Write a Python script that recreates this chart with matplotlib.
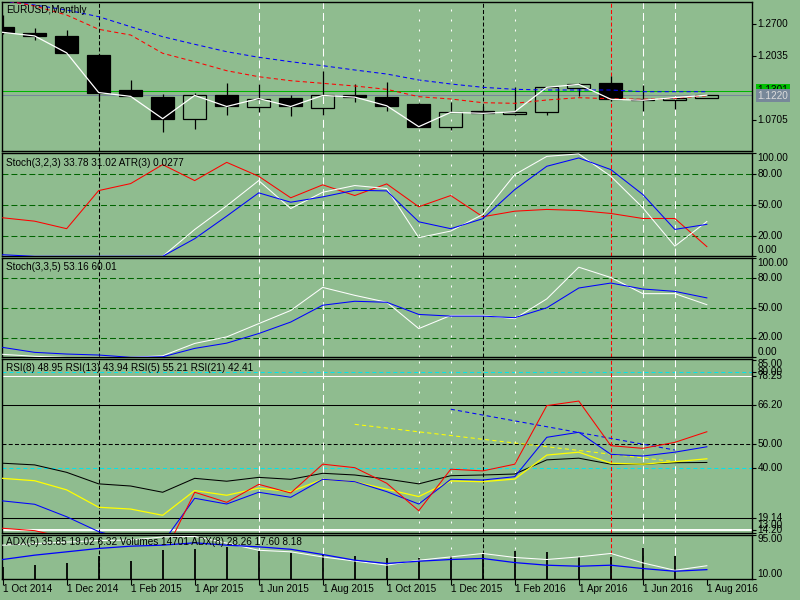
import matplotlib
matplotlib.use('Agg')
import matplotlib.pyplot as plt
import matplotlib.transforms as mtrans
import numpy as np

plt.rcParams['font.family'] = ['Liberation Sans', 'DejaVu Sans']
FS = 7.2
LW = 0.75
BG = '#8fbc8f'

# ---------------- data ----------------
months = ['Oct 2014', 'Nov 2014', 'Dec 2014', 'Jan 2015', 'Feb 2015', 'Mar 2015',
          'Apr 2015', 'May 2015', 'Jun 2015', 'Jul 2015', 'Aug 2015', 'Sep 2015',
          'Oct 2015', 'Nov 2015', 'Dec 2015', 'Jan 2016', 'Feb 2016', 'Mar 2016',
          'Apr 2016', 'May 2016', 'Jun 2016', 'Jul 2016', 'Aug 2016']
opens = [1.2630, 1.2522, 1.2452, 1.2060, 1.1325, 1.1185, 1.0731, 1.1224, 1.0981, 1.1161,
         1.0960, 1.1224, 1.1182, 1.1037, 1.0565, 1.0884, 1.0835, 1.0877, 1.1376, 1.1473,
         1.1150, 1.1115, 1.1170]
highs = [1.2887, 1.2617, 1.2575, 1.2070, 1.1536, 1.1245, 1.1265, 1.1466, 1.1453, 1.1228,
         1.1714, 1.1460, 1.1494, 1.1058, 1.1085, 1.0985, 1.1384, 1.1390, 1.1473, 1.1619,
         1.1432, 1.1185, 1.1234]
lows = [1.2500, 1.2358, 1.2098, 1.1098, 1.1185, 1.0461, 1.0523, 1.0818, 1.0877, 1.0787,
        1.0808, 1.1086, 1.0897, 1.0557, 1.0496, 1.0711, 1.0815, 1.0808, 1.1197, 1.1098,
        1.0898, 1.0939, 1.1160]
closes = [1.2527, 1.2452, 1.2100, 1.1275, 1.1195, 1.0731, 1.1215, 1.0985, 1.1150, 1.0985,
          1.1215, 1.1180, 1.1000, 1.0565, 1.0864, 1.0843, 1.0875, 1.1384, 1.1445, 1.1135,
          1.1115, 1.1170, 1.1220]
ma_slow = [1.3178, 1.3095, 1.2991, 1.2852, 1.2644, 1.2436, 1.2278, 1.2124, 1.2008, 1.1916,
           1.1833, 1.1744, 1.1660, 1.1536, 1.1453, 1.1384, 1.1342, 1.1328, 1.1328, 1.1328,
           1.1293, 1.1293, 1.1293]
ma_mid = [1.3199, 1.3074, 1.2887, 1.2590, 1.2471, 1.2091, 1.1916, 1.1729, 1.1604, 1.1521,
          1.1467, 1.1411, 1.1342, 1.1189, 1.1141, 1.1064, 1.1051, 1.1120, 1.1168, 1.1147,
          1.1135, 1.1155, 1.1209]
green_level = 1.1301
bid_level = 1.1220
price_ticks = [1.2700, 1.2035, 1.0705]

stoch1_main = [0, 0, 0, 0, 0, 0, 26, 49, 73.5, 46.4, 62.2, 68.7, 65.8, 18.1, 24.5, 40.6,
               79.3, 97, 99.4, 77.7, 47.1, 9.9, 33.78]
stoch1_signal = [1.5, 0, 0, 0, 0, 0, 17.1, 39, 61.6, 52.5, 57.7, 64.1, 63.5, 33.5, 26.8, 36.5,
                 64.8, 87.4, 95.5, 84.2, 60, 26.1, 31.02]
atr_line = [37.4, 34.1, 26.8, 63.8, 70.6, 89.0, 73.5, 91.2, 77.7, 56.8, 69.4, 59.0, 70.3,
            48.1, 59.0, 38.4, 43.8, 45.5, 44.5, 41.6, 36.7, 36.7, 9.4]

stoch2_main = [3, 1, 0, 0, 0, 1.5, 14, 20.6, 34, 47.3, 70.6, 62.6, 55.6, 29, 42.3, 42.3,
               39, 59, 91, 80.6, 64.3, 64.3, 53.16]
stoch2_signal = [10, 5, 3.3, 2.3, 0, 0.5, 9, 14.3, 24, 35.6, 52.6, 56.6, 55.6, 43.3, 41.6,
                 41.6, 40, 50, 70, 75, 69, 66.6, 60.01]
stoch_levels = [80, 50, 20]

rsi5 = [15, 14, 11, 8, 6, 3, 30, 25.8, 33.3, 29.7, 41.7, 40.25, 33.75, 22.3, 39.6, 38.9,
        41.7, 66.1, 68, 49.4, 48.3, 50.8, 55.21]
rsi8 = [26.4, 25, 19.8, 13.6, 10, 9, 27.5, 25.1, 30, 27.9, 35.4, 34.4, 30.25, 25.1, 35.4,
        35.1, 36.5, 52.9, 55, 45.8, 45.1, 46.7, 48.95]
rsi13 = [35.8, 34.8, 31, 23.75, 23, 20.4, 30.7, 28.75, 31.7, 30.25, 35.4, 34.4, 31.25, 28.2,
         34.7, 34.4, 35.5, 45.5, 46.7, 42.1, 41.7, 42.75, 43.94]
rsi21 = [42.1, 41.4, 38.3, 33.5, 32.6, 30, 35.8, 34.6, 36.2, 35.4, 37.9, 37.2, 35.5, 33.5,
         36.9, 37.2, 37.6, 43.5, 44.2, 41.7, 41.7, 42.3, 42.41]
trend_blue_k = [14, 21]
trend_blue_v = [64.6, 47.6]
trend_yellow_k = [11, 21]
trend_yellow_v = [58.3, 42.75]

adx5 = [76, 79, 82, 85, 86, 92, 93, 80, 66, 63, 53, 45, 37, 46.6, 53.1, 59.8, 52, 48, 53.1,
        59.8, 41.4, 27, 35.85]
adx8 = [48, 56.5, 63, 69.6, 74, 76, 80.6, 76, 72.7, 68, 57.8, 46.7, 40.2, 44.7, 48, 50, 42,
        36.9, 34.9, 36.9, 30.4, 25.1, 28.26]
volumes_k = [260, 309, 336, 498, 393, 624, 638, 687, 603, 554, 512, 498, 449, 441, 498, 554,
             603, 567, 462, 462, 651, 498, 14.7]

vline_months = [3, 8, 10, 13, 14, 15, 16, 19, 20, 21]
vline_colors = ['black', 'white', 'white', 'white', 'white', 'black', 'white', 'red', 'white', 'white']
vline_kinds = ['dash', 'dash', 'dash', 'dot', 'dot', 'dash', 'dot', 'dash', 'dash', 'dash']

# ---------------- figure ----------------
W, H = 800, 600
fig = plt.figure(figsize=(8, 6), dpi=100, facecolor=BG)
x = np.arange(len(months))
XL, XR = 2.3, 752.3

DASH_MA = (0, (4, 3))
DASH_GRID = (0, (5.7, 2.9))
DASH_LVL = (0, (3.8, 2.2))
DASH_CYAN = (0, (3.8, 2.9))


def mk_ax(top, bottom):
    ax = fig.add_axes([XL / W, 1 - bottom / H, (XR - XL) / W, (bottom - top) / H])
    ax.set_facecolor(BG)
    for s in ax.spines.values():
        s.set_color('black')
        s.set_linewidth(1.0)
    ax.set_xlim(-0.01, 23.42)
    ax.tick_params(axis='x', bottom=False, labelbottom=False)
    ax.yaxis.tick_right()
    ax.tick_params(axis='y', right=True, left=False, labelright=False, labelleft=False,
                   length=3, width=0.8, color='black', direction='out')
    return ax


def rlabel(ax, value, text, dy=0, **kw):
    tr = mtrans.blended_transform_factory(ax.transAxes, ax.transData)
    tr = mtrans.offset_copy(tr, fig=fig, x=5.4, y=-dy, units='dots')
    return ax.text(1.0, value, text, transform=tr, ha='left', va='center',
                   fontsize=FS, clip_on=False, **kw)


def vlines(ax):
    for k, c, kind in zip(vline_months, vline_colors, vline_kinds):
        if kind == 'dot':
            ls = (0, (1.9, 7.7))
        elif c == 'white':
            ls = (0, (7.6, 3.8))
        else:
            ls = (0, (3.8, 2.2))
        ax.axvline(k, color=c, ls=ls, lw=LW, zorder=2)


def ptext(px, py, s):
    fig.text(px / W, 1 - py / H, s, fontsize=FS, va='center', ha='left', color='black',
             zorder=20)


# ---- main price panel ----
ax = mk_ax(1.7, 151.3)
ax.set_ylim(1.00534, 1.31636)
o = np.array(opens); c = np.array(closes); h = np.array(highs); l = np.array(lows)
lo = np.minimum(o, c); hi = np.maximum(o, c)
bull = c >= o
ax.vlines(x, l, lo, color='black', lw=0.9, zorder=3)
ax.vlines(x, hi, h, color='black', lw=0.9, zorder=3)
ax.bar(x[bull], (hi - lo)[bull], bottom=lo[bull], width=0.72, facecolor='none',
       edgecolor='black', lw=0.9, zorder=3)
ax.bar(x[~bull], (hi - lo)[~bull], bottom=lo[~bull], width=0.72, facecolor='black',
       edgecolor='black', lw=0.9, zorder=3)
ax.axhline(green_level, color='#00b400', lw=LW, zorder=2)
ax.axhline(bid_level, color='#778899', lw=LW, zorder=2)
vlines(ax)
ax.plot(x, ma_slow, color='#0000ff', ls=DASH_MA, lw=LW, zorder=4)
ax.plot(x, ma_mid, color='#ff0000', ls=DASH_MA, lw=LW, zorder=4)
ax.plot(x, closes, color='white', lw=0.9, zorder=5)
ax.set_yticks(price_ticks)
for v in price_ticks:
    rlabel(ax, v, f'{v:.4f}')
rlabel(ax, green_level, f'{green_level:.4f}', dy=-1, color='black', zorder=6,
       bbox=dict(boxstyle='square,pad=0.15', fc='#00c000', ec='none'))
rlabel(ax, bid_level, f'{bid_level:.4f}', dy=0.5, color='#dcdcdc', zorder=7,
       bbox=dict(boxstyle='square,pad=0.15', fc='#778899', ec='none'))
ptext(6.5, 10, 'EURUSD,Monthly')

# ---- stoch 1 ----
ax1 = mk_ax(153.3, 256.3)
ax1.set_ylim(0, 100)
for lev in stoch_levels:
    ax1.axhline(lev, color='#006400', ls=DASH_GRID, lw=LW, zorder=1)
vlines(ax1)
ax1.plot(x, atr_line, color='#ff0000', lw=LW, zorder=3)
ax1.plot(x, stoch1_main, color='white', lw=LW, zorder=3)
ax1.plot(x, stoch1_signal, color='#0000ff', lw=LW, zorder=4)
ax1.set_yticks([0, 20, 50, 80, 100])
rlabel(ax1, 100, '100.00', dy=5)
for v in stoch_levels:
    rlabel(ax1, v, f'{v:.2f}')
rlabel(ax1, 0, '0.00', dy=-6)
ptext(6, 162.7, 'Stoch(3,2,3) 33.78 31.02 ATR(3) 0.0277')

# ---- stoch 2 ----
ax2 = mk_ax(258.3, 357.3)
ax2.set_ylim(0, 100)
for lev in stoch_levels:
    ax2.axhline(lev, color='#006400', ls=DASH_GRID, lw=LW, zorder=1)
vlines(ax2)
ax2.plot(x, stoch2_main, color='white', lw=LW, zorder=3)
ax2.plot(x, stoch2_signal, color='#0000ff', lw=LW, zorder=4)
ax2.set_yticks([0, 20, 50, 80, 100])
rlabel(ax2, 100, '100.00', dy=5)
for v in stoch_levels:
    rlabel(ax2, v, f'{v:.2f}')
rlabel(ax2, 0, '0.00', dy=-5.5)
ptext(6, 267.3, 'Stoch(3,3,5) 53.16 60.01')

# ---- RSI ----
ax3 = mk_ax(359.3, 533.3)
ax3.set_ylim(12.9, 85.4)
ax3.axhline(80, color='#00e5ee', ls=DASH_CYAN, lw=LW, zorder=1)
ax3.axhline(78.25, color='white', lw=LW, zorder=1)
ax3.axhline(66.2, color='black', lw=LW, zorder=1)
ax3.axhline(50, color='black', ls=DASH_LVL, lw=LW, zorder=1)
ax3.axhline(40, color='#00e5ee', ls=DASH_CYAN, lw=LW, zorder=1)
ax3.axhline(19.14, color='black', lw=LW, zorder=1)
ax3.axhline(14.2, color='white', lw=1.4, zorder=1)
vlines(ax3)
ax3.plot(trend_blue_k, trend_blue_v, color='#0000ff', ls=DASH_MA, lw=LW, zorder=3)
ax3.plot(trend_yellow_k, trend_yellow_v, color='#ffff00', ls=DASH_MA, lw=LW, zorder=3)
ax3.plot(x, rsi21, color='black', lw=LW, zorder=4)
ax3.plot(x, rsi13, color='#ffff00', lw=0.9, zorder=4)
ax3.plot(x, rsi8, color='#0000ff', lw=LW, zorder=5)
ax3.plot(x, rsi5, color='#ff0000', lw=LW, zorder=6)
ax3.set_yticks([85, 80, 78.25, 66.2, 50, 40, 19.14, 14.2, 13])
rlabel(ax3, 85, '85.00', dy=4)
rlabel(ax3, 80, '80.00')
rlabel(ax3, 78.25, '78.25')
rlabel(ax3, 66.2, '66.20')
rlabel(ax3, 50, '50.00')
rlabel(ax3, 40, '40.00')
rlabel(ax3, 19.14, '19.14')
rlabel(ax3, 13, '13.00', dy=-8)
rlabel(ax3, 14.2, '14.20')
ptext(6, 368.3, 'RSI(8) 48.95 RSI(13) 43.94 RSI(5) 55.21 RSI(21) 42.41')

# ---- ADX + volumes ----
axv = mk_ax(534.6, 579.3)
axv.set_ylim(0, 44.7 * 21)
axv.set_yticks([])
axv.tick_params(axis='y', right=False)
vlines(axv)
axv.vlines(x, 0, volumes_k, color='black', lw=1.3, zorder=3)
axa = axv.twinx()
axa.set_xlim(-0.01, 23.42)
axa.set_ylim(9.4, 96.6)
for s in axa.spines.values():
    s.set_visible(False)
axa.tick_params(axis='y', right=True, labelright=False, length=3, width=0.8, direction='out')
axa.set_yticks([95, 10])
axa.plot(x, adx5, color='white', lw=LW, zorder=3)
axa.plot(x, adx8, color='#0000ff', lw=0.9, zorder=4)
rlabel(axa, 95, '95.00', dy=4)
rlabel(axa, 10, '10.00', dy=-5.4)
ptext(6, 542.3, 'ADX(5) 35.85 19.02 6.32 Volumes 14701 ADX(8) 28.26 17.60 8.18')

# time axis
tick_k = list(range(0, len(months), 2))
axv.set_xticks(tick_k)
axv.tick_params(axis='x', bottom=True, labelbottom=False, length=4, width=0.8, direction='out')
trx = mtrans.offset_copy(mtrans.blended_transform_factory(axv.transData, axv.transAxes),
                         fig=fig, x=0.5, y=-9.3, units='dots')
for k in tick_k:
    axv.text(k, 0, '1 ' + months[k], transform=trx, ha='left', va='center', fontsize=FS,
             clip_on=False)

fig.savefig('out.png', dpi=100, facecolor=BG)
